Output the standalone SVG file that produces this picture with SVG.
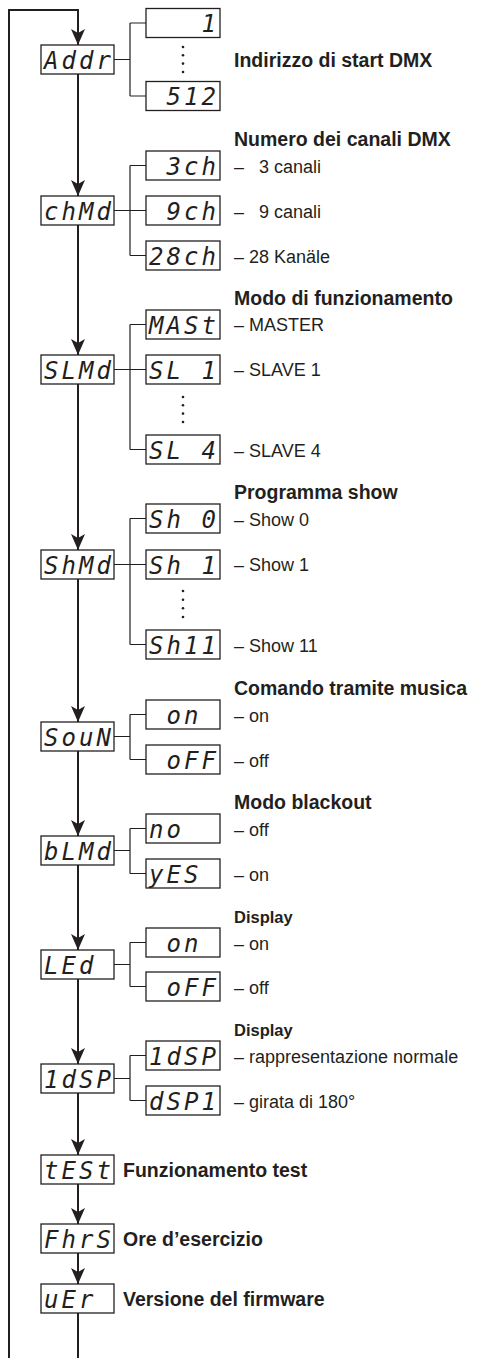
<svg xmlns="http://www.w3.org/2000/svg" width="484" height="1358" viewBox="0 0 484 1358">
<defs>
<style>
.box{fill:#fff;stroke:#231f20;stroke-width:1.3}
.seg{font-family:"DejaVu Sans Mono",monospace;font-style:italic;font-size:24px;fill:#231f20}
.main{fill:none;stroke:#231f20;stroke-width:2}
.br{fill:none;stroke:#231f20;stroke-width:1.2}
.h{font-family:"Liberation Sans",Arial,sans-serif;font-weight:bold;font-size:19.5px;fill:#231f20}
.hs{font-family:"Liberation Sans",Arial,sans-serif;font-weight:bold;font-size:16.5px;fill:#231f20}
.t{font-family:"Liberation Sans",Arial,sans-serif;font-size:18px;fill:#231f20}
.dot{fill:#231f20}
</style>
<marker id="arr" markerUnits="userSpaceOnUse" markerWidth="16" markerHeight="14" refX="16" refY="7" orient="auto" viewBox="0 0 16 14">
<path d="M0,0 L16,7 L0,14 L4,7 Z" fill="#231f20"/>
</marker>
</defs>
<rect width="484" height="1358" fill="#fff"/>

<g id="connectors">
<path class="main" d="M9,1358 V10 H78 V45" marker-end="url(#arr)"/>
<path class="main" d="M78,74 V196" marker-end="url(#arr)"/>
<path class="main" d="M78,225 V355" marker-end="url(#arr)"/>
<path class="main" d="M78,384 V550" marker-end="url(#arr)"/>
<path class="main" d="M78,579 V722" marker-end="url(#arr)"/>
<path class="main" d="M78,751 V836" marker-end="url(#arr)"/>
<path class="main" d="M78,865 V950" marker-end="url(#arr)"/>
<path class="main" d="M78,979 V1064" marker-end="url(#arr)"/>
<path class="main" d="M78,1093 V1155" marker-end="url(#arr)"/>
<path class="main" d="M78,1184 V1224" marker-end="url(#arr)"/>
<path class="main" d="M78,1253 V1284" marker-end="url(#arr)"/>
<path class="main" d="M78,1313 V1358"/>
<path class="br" d="M114,59.5 H130 M130,23 V96 M130,23 H146 M130,96 H146"/>
<path class="br" d="M114,210.5 H146 M130,165.5 V255.5 M130,165.5 H146 M130,255.5 H146"/>
<path class="br" d="M114,369.5 H146 M130,324.5 V449.5 M130,324.5 H146 M130,449.5 H146"/>
<path class="br" d="M114,564.5 H146 M130,518.5 V644.5 M130,518.5 H146 M130,644.5 H146"/>
<path class="br" d="M114,736.5 H130 M130,714.5 V759.5 M130,714.5 H146 M130,759.5 H146"/>
<path class="br" d="M114,850.5 H130 M130,828.5 V873.5 M130,828.5 H146 M130,873.5 H146"/>
<path class="br" d="M114,964.5 H130 M130,942.5 V986.5 M130,942.5 H146 M130,986.5 H146"/>
<path class="br" d="M114,1078.5 H130 M130,1055.5 V1100.5 M130,1055.5 H146 M130,1100.5 H146"/>
</g>

<g id="node-addr">
<rect class="box" x="41" y="45" width="73" height="29"/>
<text class="seg" x="44 61.5 79 96.5" y="68.5">Addr</text>
<text class="h" x="234" y="66.5">Indirizzo di start DMX</text>
</g>
<g id="node-addr-1"><rect class="box" x="146" y="8.5" width="74" height="29"/><text class="seg" x="201.5" y="32">1</text></g>
<g id="node-addr-dots"><circle class="dot" cx="183" cy="47" r="1.3"/><circle class="dot" cx="183" cy="55.3" r="1.3"/><circle class="dot" cx="183" cy="63.6" r="1.3"/><circle class="dot" cx="183" cy="72" r="1.3"/></g>
<g id="node-addr-512"><rect class="box" x="146" y="81.5" width="74" height="29"/><text class="seg" x="166.5 184 201.5" y="105">512</text></g>

<g id="node-chmd">
<rect class="box" x="41" y="196" width="73" height="29"/>
<text class="seg" x="44 61.5 79 96.5" y="219.5">chMd</text>
<text class="h" x="234" y="145.5">Numero dei canali DMX</text>
</g>
<g id="node-3ch"><rect class="box" x="146" y="151" width="74" height="29"/><text class="seg" x="166.5 184 201.5" y="174.5">3ch</text><text class="t" x="234" y="173">– <tspan dx="10">3 canali</tspan></text></g>
<g id="node-9ch"><rect class="box" x="146" y="196" width="74" height="29"/><text class="seg" x="166.5 184 201.5" y="219.5">9ch</text><text class="t" x="234" y="218">– <tspan dx="10">9 canali</tspan></text></g>
<g id="node-28ch"><rect class="box" x="146" y="241" width="74" height="29"/><text class="seg" x="149 166.5 184 201.5" y="264.5">28ch</text><text class="t" x="234" y="263">– 28 Kanäle</text></g>

<g id="node-slmd">
<rect class="box" x="41" y="355" width="73" height="29"/>
<text class="seg" x="44 61.5 79 96.5" y="378.5">SLMd</text>
<text class="h" x="234" y="305">Modo di funzionamento</text>
</g>
<g id="node-mast"><rect class="box" x="146" y="310" width="74" height="29"/><text class="seg" x="149 166.5 184 201.5" y="333.5">MASt</text><text class="t" x="234" y="331">– MASTER</text></g>
<g id="node-sl1"><rect class="box" x="146" y="355" width="74" height="29"/><text class="seg" x="149 166.5 184 201.5" y="378.5">SL 1</text><text class="t" x="234" y="376">– SLAVE 1</text></g>
<g id="node-sl-dots"><circle class="dot" cx="183" cy="397" r="1.3"/><circle class="dot" cx="183" cy="405.3" r="1.3"/><circle class="dot" cx="183" cy="413.6" r="1.3"/><circle class="dot" cx="183" cy="422" r="1.3"/></g>
<g id="node-sl4"><rect class="box" x="146" y="435" width="74" height="29"/><text class="seg" x="149 166.5 184 201.5" y="458.5">SL 4</text><text class="t" x="234" y="456.5">– SLAVE 4</text></g>

<g id="node-shmd">
<rect class="box" x="41" y="550" width="73" height="29"/>
<text class="seg" x="44 61.5 79 96.5" y="573.5">ShMd</text>
<text class="h" x="234" y="498.5">Programma show</text>
</g>
<g id="node-sh0"><rect class="box" x="146" y="504" width="74" height="29"/><text class="seg" x="149 166.5 184 201.5" y="527.5">Sh 0</text><text class="t" x="234" y="526">– Show 0</text></g>
<g id="node-sh1"><rect class="box" x="146" y="550" width="74" height="29"/><text class="seg" x="149 166.5 184 201.5" y="573.5">Sh 1</text><text class="t" x="234" y="571">– Show 1</text></g>
<g id="node-sh-dots"><circle class="dot" cx="183" cy="591" r="1.3"/><circle class="dot" cx="183" cy="599.7" r="1.3"/><circle class="dot" cx="183" cy="608.3" r="1.3"/><circle class="dot" cx="183" cy="617" r="1.3"/></g>
<g id="node-sh11"><rect class="box" x="146" y="630" width="74" height="29"/><text class="seg" x="149 166.5 184 201.5" y="653.5">Sh11</text><text class="t" x="234" y="652">– Show 11</text></g>

<g id="node-soun">
<rect class="box" x="41" y="722" width="73" height="29"/>
<text class="seg" x="44 61.5 79 96.5" y="745.5">SouN</text>
<text class="h" x="234" y="694.5">Comando tramite musica</text>
</g>
<g id="node-soun-on"><rect class="box" x="146" y="700" width="74" height="29"/><text class="seg" x="166.5 184" y="723.5">on</text><text class="t" x="234" y="721.5">– on</text></g>
<g id="node-soun-off"><rect class="box" x="146" y="745" width="74" height="29"/><text class="seg" x="166.5 184 201.5" y="768.5">oFF</text><text class="t" x="234" y="766.5">– off</text></g>

<g id="node-blmd">
<rect class="box" x="41" y="836" width="73" height="29"/>
<text class="seg" x="44 61.5 79 96.5" y="859.5">bLMd</text>
<text class="h" x="234" y="808.5">Modo blackout</text>
</g>
<g id="node-no"><rect class="box" x="146" y="814" width="74" height="29"/><text class="seg" x="149 166.5" y="837.5">no</text><text class="t" x="234" y="835.5">– off</text></g>
<g id="node-yes"><rect class="box" x="146" y="859" width="74" height="29"/><text class="seg" x="149 166.5 184" y="882.5">yES</text><text class="t" x="234" y="880.5">– on</text></g>

<g id="node-led">
<rect class="box" x="41" y="950" width="73" height="29"/>
<text class="seg" x="44 61.5 79" y="973.5">LEd</text>
<text class="hs" x="234" y="922.5">Display</text>
</g>
<g id="node-led-on"><rect class="box" x="146" y="928" width="74" height="29"/><text class="seg" x="166.5 184" y="951.5">on</text><text class="t" x="234" y="949.5">– on</text></g>
<g id="node-led-off"><rect class="box" x="146" y="972" width="74" height="29"/><text class="seg" x="166.5 184 201.5" y="995.5">oFF</text><text class="t" x="234" y="993.5">– off</text></g>

<g id="node-1dsp">
<rect class="box" x="41" y="1064" width="73" height="29"/>
<text class="seg" x="44 61.5 79 96.5" y="1087.5">1dSP</text>
<text class="hs" x="234" y="1035.5">Display</text>
</g>
<g id="node-1dsp-sub"><rect class="box" x="146" y="1041" width="74" height="29"/><text class="seg" x="149 166.5 184 201.5" y="1064.5">1dSP</text><text class="t" x="234" y="1062.5">– rappresentazione normale</text></g>
<g id="node-dsp1"><rect class="box" x="146" y="1086" width="74" height="29"/><text class="seg" x="149 166.5 184 201.5" y="1109.5">dSP1</text><text class="t" x="234" y="1107.5">– girata di 180°</text></g>

<g id="node-test">
<rect class="box" x="41" y="1155" width="73" height="29"/>
<text class="seg" x="44 61.5 79 96.5" y="1178.5">tESt</text>
<text class="h" x="123" y="1176.5">Funzionamento test</text>
</g>
<g id="node-fhrs">
<rect class="box" x="41" y="1224" width="73" height="29"/>
<text class="seg" x="44 61.5 79 96.5" y="1247.5">FhrS</text>
<text class="h" x="123" y="1245.5">Ore d’esercizio</text>
</g>
<g id="node-ver">
<rect class="box" x="41" y="1284" width="73" height="29"/>
<text class="seg" x="44 61.5 79" y="1307.5">uEr</text>
<text class="h" x="123" y="1305.5">Versione del firmware</text>
</g>
</svg>
